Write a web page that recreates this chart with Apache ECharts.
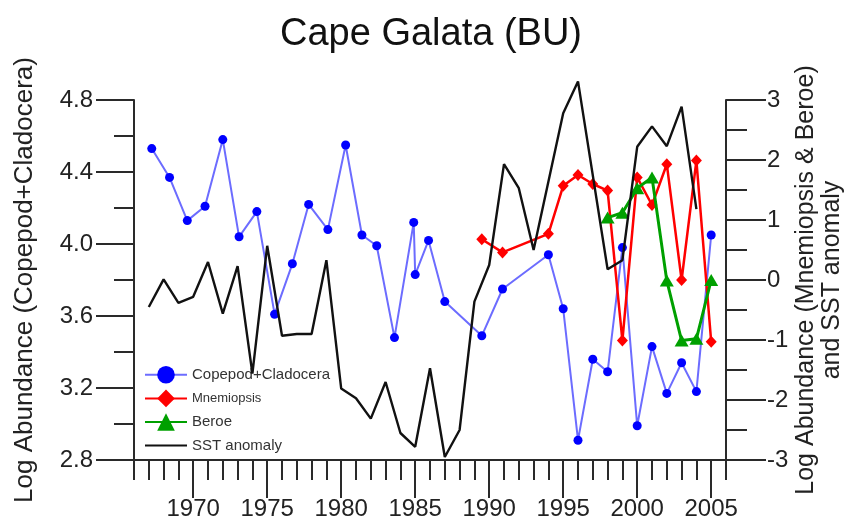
<!DOCTYPE html>
<html>
<head>
<meta charset="utf-8">
<script src="https://cdn.jsdelivr.net/npm/echarts@6/dist/echarts.min.js"></script>
<style>html,body{margin:0;padding:0;background:#fff;}#chart{width:845px;height:522px;}</style>
</head>
<body>
<div id="chart"></div>
<script>
// ---- data ----
const copYears  = [1967.2,1968.4,1969.6,1970.8,1972.0,1973.1,1974.3,1975.5,1976.7,1977.8,1979.1,1980.3,1981.4,1982.4,1983.6,1984.9,1985.0,1985.9,1987.0,1989.5,1990.9,1994.0,1995,1996,1997,1998,1999,2000,2001,2002,2003,2004,2005];
const copValues = [4.53,4.37,4.13,4.21,4.58,4.04,4.18,3.61,3.89,4.22,4.08,4.55,4.05,3.99,3.48,4.12,3.83,4.02,3.68,3.49,3.75,3.94,3.64,2.91,3.36,3.29,3.98,2.99,3.43,3.17,3.34,3.18,4.05];

const mnemYears  = [1989.5,1990.9,1994,1995,1996,1997,1998,1999,2000,2001,2002,2003,2004,2005];
const mnemValues = [0.68,0.46,0.77,1.57,1.75,1.60,1.49,-1.01,1.71,1.25,1.93,0.00,1.99,-1.03];

const beroeYears  = [1998,1999,2000,2001,2002,2003,2004,2005];
const beroeValues = [1.04,1.12,1.53,1.71,-0.01,-1.01,-0.98,0.00];

const sstYears  = [1967,1968,1969,1970,1971,1972,1973,1974,1975,1976,1977,1978,1979,1980,1981,1982,1983,1984,1985,1986,1987,1988,1989,1990,1991,1992,1993,1995,1996,1998,1999,2000,2001,2002,2003,2004];
const sstValues = [-0.45,0.01,-0.38,-0.28,0.30,-0.56,0.23,-1.56,0.57,-0.93,-0.90,-0.90,0.33,-1.81,-1.97,-2.31,-1.70,-2.55,-2.78,-1.47,-2.95,-2.50,-0.36,0.25,1.93,1.53,0.50,2.78,3.31,0.18,0.33,2.22,2.56,2.23,2.89,1.18];

const xTickLabels = [1970,1975,1980,1985,1990,1995,2000,2005];

const seriesNames = ['Copepod+Cladocera','Mnemiopsis','Beroe','SST anomaly'];

// ---- chart ----
const FONT = '"Liberation Sans", Arial, sans-serif';
const AX = '#2a2a2a';
const pair = (xs, ys) => xs.map((x, i) => [x, ys[i]]);

const chart = echarts.init(document.getElementById('chart'), null, {renderer: 'canvas'});
chart.setOption({
  animation: false,
  backgroundColor: '#ffffff',
  textStyle: {fontFamily: FONT},
  title: {
    text: 'Cape Galata (BU)',
    left: 426, top: 11, textAlign: 'center',
    textStyle: {fontSize: 38, fontWeight: 'normal', color: '#111', fontFamily: FONT}
  },
  grid: {left: 134, right: 119, top: 100, bottom: 62, containLabel: false, outerBoundsMode: 'none'},
  legend: {
    orient: 'vertical', left: 139, top: 361,
    itemWidth: 42, itemHeight: 22, itemGap: 6,
    textStyle: {fontSize: 15, color: '#333', fontFamily: FONT},
    data: [
      {name: seriesNames[0]},
      {name: seriesNames[1], textStyle: {fontSize: 13}},
      {name: seriesNames[2]},
      {name: seriesNames[3], itemStyle: {opacity: 0}}
    ]
  },
  xAxis: [
    {
      type: 'value', min: 1966, max: 2006, interval: 1,
      axisLine: {show: true, onZero: false, lineStyle: {color: AX, width: 2}},
      axisTick: {show: true, length: 20, lineStyle: {color: AX, width: 2}},
      axisLabel: {show: false},
      splitLine: {show: false}
    },
    {
      type: 'value', min: 1966, max: 2006, position: 'bottom',
      axisLine: {show: false, onZero: false},
      axisTick: {show: true, length: 38, customValues: xTickLabels, lineStyle: {color: AX, width: 2}},
      axisLabel: {show: true, customValues: xTickLabels, margin: 37, fontSize: 24, color: '#222', fontFamily: FONT, formatter: v => String(v)},
      splitLine: {show: false}
    }
  ],
  yAxis: [
    {
      type: 'value', min: 2.8, max: 4.8, interval: 0.4, position: 'left',
      name: 'Log Abundance (Copepod+Cladocera)',
      nameLocation: 'middle', nameRotate: 90, nameGap: 96,
      nameTextStyle: {fontSize: 26, color: '#222', fontFamily: FONT},
      axisLine: {show: true, onZero: false, lineStyle: {color: AX, width: 2}},
      axisTick: {show: true, length: 38, lineStyle: {color: AX, width: 2}},
      minorTick: {show: true, splitNumber: 2, length: 20, lineStyle: {color: AX, width: 2}},
      axisLabel: {margin: 41, fontSize: 24, color: '#222', fontFamily: FONT, formatter: v => v.toFixed(1)},
      splitLine: {show: false}, minorSplitLine: {show: false}
    },
    {
      type: 'value', min: -3, max: 3, interval: 1, position: 'right',
      name: 'Log Abundance (Mnemiopsis & Beroe)\nand SST anomaly',
      nameLocation: 'middle', nameRotate: 90, nameGap: 67, nameMoveOverlap: false,
      nameTextStyle: {fontSize: 25, lineHeight: 26, color: '#222', fontFamily: FONT, align: 'center'},
      axisLine: {show: true, onZero: false, lineStyle: {color: AX, width: 2}},
      axisTick: {show: true, length: 40, lineStyle: {color: AX, width: 2}},
      minorTick: {show: true, splitNumber: 2, length: 21, lineStyle: {color: AX, width: 2}},
      axisLabel: {margin: 41, fontSize: 24, color: '#222', fontFamily: FONT},
      splitLine: {show: false}, minorSplitLine: {show: false}
    }
  ],
  series: [
    {
      name: seriesNames[0], type: 'line', xAxisIndex: 0, yAxisIndex: 0,
      data: pair(copYears, copValues),
      symbol: 'circle', symbolSize: 9,
      itemStyle: {color: '#0000ff'},
      lineStyle: {color: '#6c6cff', width: 2},
      z: 2
    },
    {
      name: seriesNames[1], type: 'line', xAxisIndex: 0, yAxisIndex: 1,
      data: pair(mnemYears, mnemValues),
      symbol: 'diamond', symbolSize: [11, 12],
      itemStyle: {color: '#ff0000'},
      lineStyle: {color: '#ff0000', width: 2.5},
      z: 3
    },
    {
      name: seriesNames[2], type: 'line', xAxisIndex: 0, yAxisIndex: 1,
      data: pair(beroeYears, beroeValues),
      symbol: 'triangle', symbolSize: [14, 12],
      itemStyle: {color: '#00a000'},
      lineStyle: {color: '#00a000', width: 3},
      z: 4
    },
    {
      name: seriesNames[3], type: 'line', xAxisIndex: 0, yAxisIndex: 1,
      data: pair(sstYears, sstValues),
      symbol: 'none', clip: false,
      itemStyle: {color: '#111111'},
      lineStyle: {color: '#111111', width: 2.4},
      z: 5
    }
  ]
});
</script>
</body>
</html>
